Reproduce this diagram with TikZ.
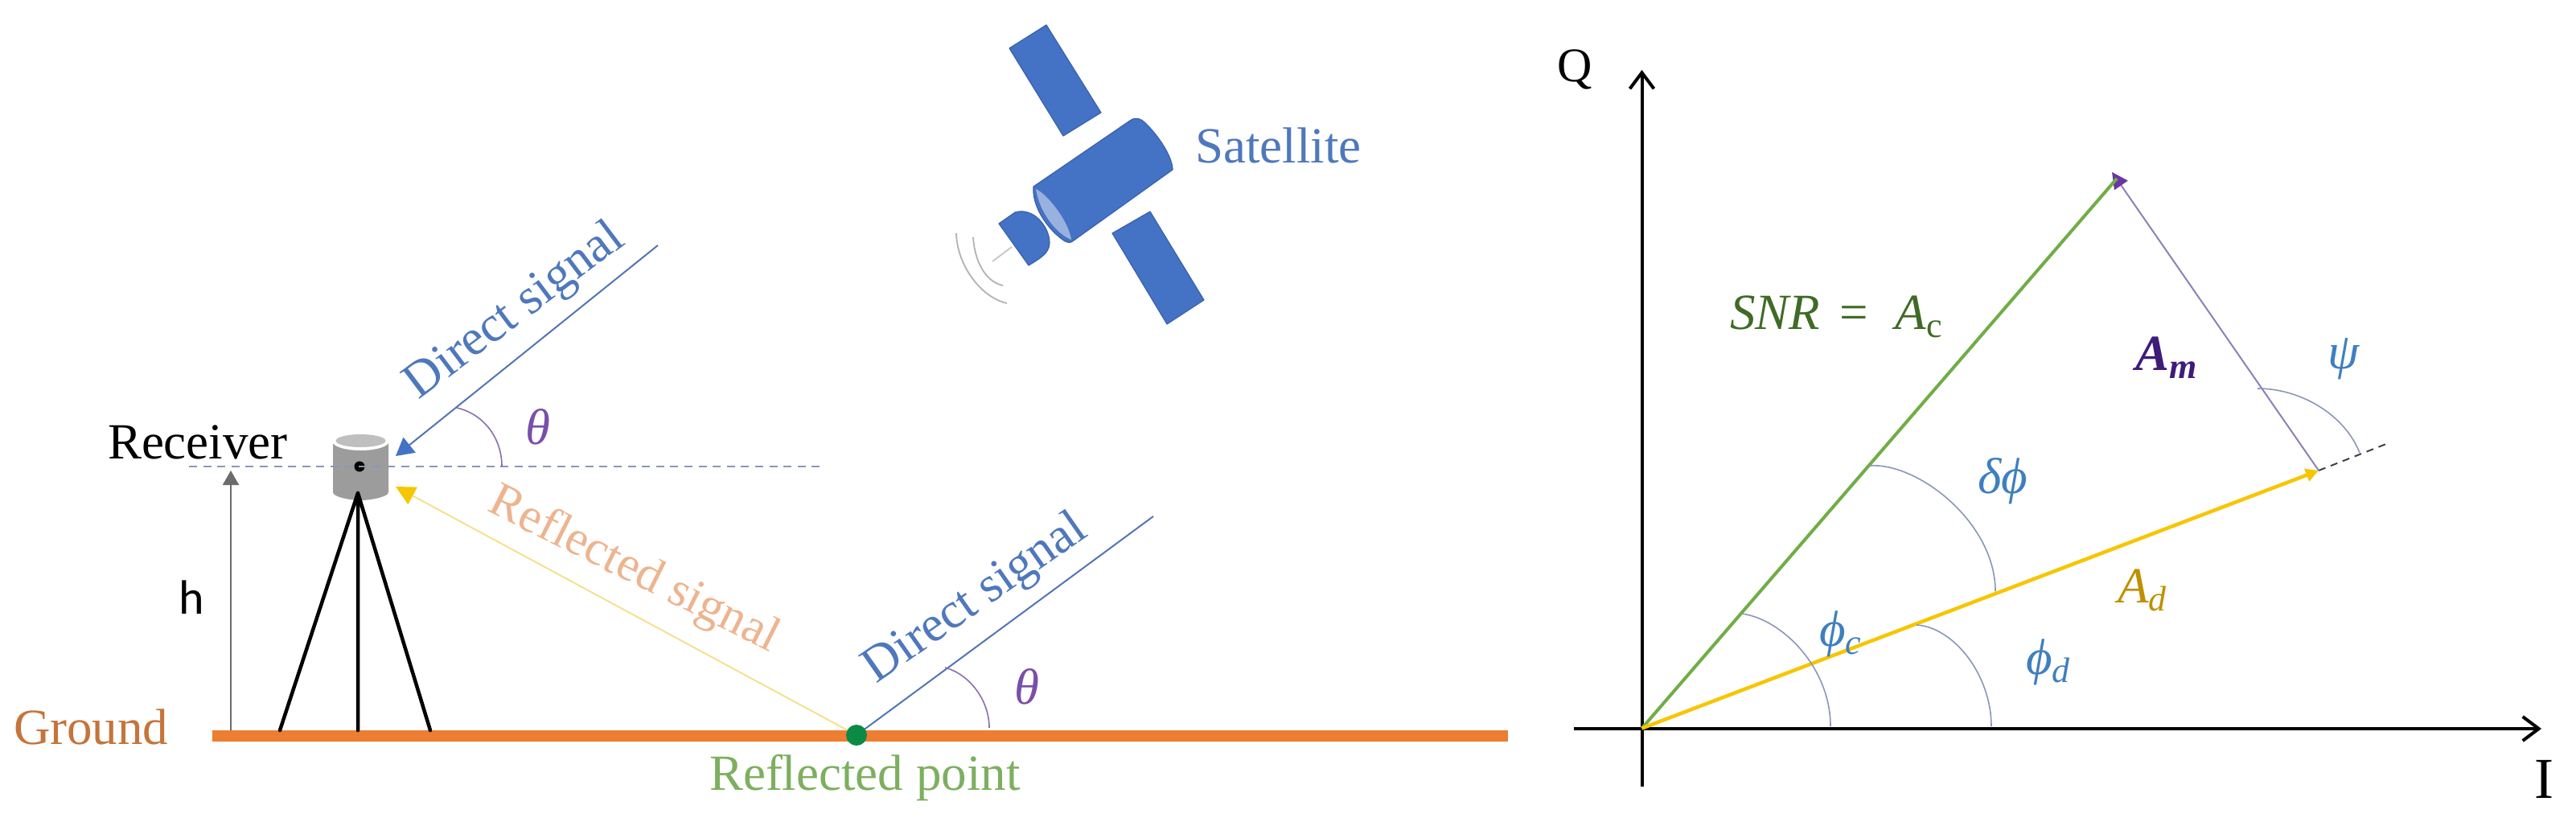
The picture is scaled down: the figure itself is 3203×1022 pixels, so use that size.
\documentclass[tikz,border=0pt]{standalone}
\usepackage{fontspec}
\setmainfont{Liberation Serif}
\newfontfamily\calfont{Carlito}
\usetikzlibrary{arrows.meta}
\definecolor{satblue}{HTML}{4472C4}
\definecolor{satrim}{HTML}{3A62AC}
\definecolor{txtblue}{HTML}{4F78BC}
\definecolor{angblue}{HTML}{3F7FBF}
\definecolor{arcgray}{HTML}{8A97B5}
\definecolor{thpurple}{HTML}{7A4FA8}
\definecolor{arcpurple}{HTML}{8A6FA8}
\definecolor{gndorange}{HTML}{ED7D31}
\definecolor{gndtxt}{HTML}{C5743A}
\definecolor{reftxt}{HTML}{EDB48F}
\definecolor{ptgreen}{HTML}{7DAF5F}
\definecolor{linegreen}{HTML}{70AD47}
\definecolor{snrgreen}{HTML}{3F6B26}
\definecolor{lineyellow}{HTML}{F6C600}
\definecolor{thinyellow}{HTML}{F5E08F}
\definecolor{adtxt}{HTML}{BF9000}
\definecolor{ampurple}{HTML}{3E1C78}
\definecolor{linepurple}{HTML}{8F80B5}
\definecolor{headpurple}{HTML}{6A35A5}
\definecolor{dotgreen}{HTML}{0B8A45}
\newcommand{\subsc}[1]{\raisebox{-10pt}{\fontsize{44}{46}\selectfont #1}}
\tikzset{
  lbl/.style={inner sep=0pt,outer sep=0pt,font=\fontsize{63}{70}\selectfont},
  mth/.style={inner sep=0pt,outer sep=0pt,font=\fontsize{63}{70}\selectfont\itshape},
  axisline/.style={line width=4pt,black,-{Straight Barb[length=20pt,width=30pt,line width=4pt]}},
  thinline/.style={line width=2pt},
  anglearc/.style={line width=1.6pt,arcgray},
  thetaarc/.style={line width=1.6pt,arcpurple},
  dashref/.style={line width=2.2pt,color=arcgray,dash pattern=on 10pt off 7.6pt},
  satpart/.style={fill=satblue,draw=satrim,line width=1.2pt,line join=round},
  wave/.style={line width=1.8pt,color=gray!60}
}
\begin{document}
\begin{tikzpicture}[x=1pt,y=-1pt]
\useasboundingbox (0,0) rectangle (3203,1022);
% --- coordinates
\coordinate (gndL) at (264,915);
\coordinate (gndR) at (1875,915);
\coordinate (refl) at (1065,914);
\coordinate (rxdirect) at (492,567);
\coordinate (srcA) at (818,305);
\coordinate (srcB) at (1434,642);
\coordinate (rxrefl) at (492,605);
\coordinate (dashL) at (235,580);
\coordinate (dashR) at (1024,580);
\coordinate (hbot) at (287,908);
\coordinate (htop) at (287,585);
\coordinate (apex) at (445,613);
\coordinate (legL) at (348,908);
\coordinate (legM) at (445,908);
\coordinate (legR) at (535,908);
\coordinate (org) at (2041.5,905.5);
\coordinate (qtop) at (2041.5,87);
\coordinate (qbot) at (2041.5,978);
\coordinate (ileft) at (1957,906);
\coordinate (iright) at (3160,906);
\coordinate (gtip) at (2632,222);
\coordinate (ytip) at (2883,585);
\coordinate (ptip) at (2626,214);
\coordinate (dashend) at (2972,550);
% --- satellite
\path[satpart] (1301,31) -- (1255,60) -- (1322,169) -- (1369,140) -- cycle;
\path[satpart] (1430,263) -- (1383,290) -- (1451,403) -- (1497,373) -- cycle;
\path[satpart] (1285,232) -- (1405,150) .. controls (1412,145) and (1418,147) .. (1424,153) .. controls (1440,168) and (1458,195) .. (1458,211) -- (1335,299) .. controls (1331,303) and (1326,302) .. (1320,297) .. controls (1300,282) and (1283,255) .. (1285,232) -- cycle;
\fill[color=satblue!55!white] (1288,235) .. controls (1300,240) and (1328,272) .. (1332,298) .. controls (1312,290) and (1292,262) .. (1288,235) -- cycle;
\path[satpart] (1242,278) -- (1262,264) .. controls (1285,257) and (1305,282) .. (1305,302) .. controls (1305,315) and (1292,322) .. (1279,330) -- cycle;
\draw[wave,color=gray!45] (1258,307) -- (1234,325);
\draw[wave] (1189,290) .. controls (1190,330) and (1220,370) .. (1252,377);
\draw[wave] (1210,295) .. controls (1212,325) and (1225,350) .. (1247,355);
\node[lbl,anchor=base west,text=txtblue] (satl) at (1486,202) {Satellite};
% --- ground
\draw[line width=14pt,gndorange] (gndL) -- (gndR);
\node[lbl,anchor=base west,text=gndtxt] (gnd) at (17,925) {Ground};
\node[lbl,anchor=base west,text=ptgreen] (rpt) at (882,982) {Reflected point};
% --- receiver
\fill[color=gray!78] (414,548) -- (483,548) -- (483,612) .. controls (483,618) and (460,622) .. (448,622) .. controls (436,622) and (414,618) .. (414,612) -- cycle;
\fill[white] (448.5,549) ellipse (35 and 11);
\fill[color=gray!50] (448.5,548) ellipse (31 and 8);
\fill[black] (447,580) circle (6.5);
\draw[line width=4.5pt,line cap=round] (apex) -- (legL) (apex) -- (legM) (apex) -- (legR);
% --- reference lines
\draw[dashref] (dashL) -- (dashR);
\draw[thinline,color=gray!85!black,-{Triangle[length=18pt,width=20pt]}] (hbot) -- (htop);
\node[lbl,anchor=base,text=black,font=\fontsize{60}{66}\selectfont\calfont] (hlab) at (238,763) {h};
\node[lbl,anchor=base west,text=black] (rx) at (134,570) {Receiver};
% --- signals
\draw[thinline,color=satblue!75!gray,-{Triangle[length=22pt,width=24pt,color=satblue]}] (srcA) -- (rxdirect);
\draw[thinline,color=thinyellow,-{Triangle[length=24pt,width=24pt,color=lineyellow]}] (refl) -- (rxrefl);
\draw[thinline,color=satblue!75!gray] (refl) -- (srcB);
\fill[color=dotgreen] (refl) circle (13);
\draw[thetaarc] (568,507) .. controls (602,515) and (624,545) .. (624,580);
\draw[thetaarc] (1175,830) .. controls (1205,838) and (1230,870) .. (1230,905);
\node[lbl,anchor=base,rotate=37,text=txtblue] (ds1) at (650,400) {Direct signal};
\node[lbl,anchor=base,rotate=35,text=txtblue] (ds2) at (1222,758) {Direct signal};
\node[lbl,anchor=base,rotate=-26.5,text=reftxt,font=\fontsize{61}{66}\selectfont] (rs) at (781,723) {Reflected signal};
\node[mth,anchor=base,text=thpurple] (th1) at (669,552) {θ};
\node[mth,anchor=base,text=thpurple] (th2) at (1277,875) {θ};
% --- phasor plot
\draw[axisline] (ileft) -- (iright);
\draw[axisline] (qbot) -- (qtop);
\node[lbl,anchor=base,text=black,font=\fontsize{60}{66}\selectfont] (ql) at (1958,102) {Q};
\node[lbl,anchor=base,text=black,font=\fontsize{72}{80}\selectfont] (il) at (3163,992) {I};
\draw[line width=2pt,color=gray!50!black,dash pattern=on 9pt off 7pt] (ytip) -- (dashend);
\draw[line width=2pt,color=linepurple,-{Triangle[length=20pt,width=20pt,color=headpurple]}] (ytip) -- (ptip);
\draw[line width=4pt,color=linegreen] (org) -- (gtip);
\draw[line width=4.5pt,color=lineyellow,-{Triangle[length=16pt,width=16pt]}] (org) -- (ytip);
\draw[anglearc] (2325,579) .. controls (2385,575) and (2481,650) .. (2481,735);
\draw[anglearc] (2166,763) .. controls (2216,770) and (2276,830) .. (2276,903);
\draw[anglearc] (2383,777) .. controls (2430,780) and (2476,840) .. (2476,903);
\draw[anglearc] (2807,483) .. controls (2860,483) and (2915,515) .. (2934,563);
\node[mth,anchor=base west,text=snrgreen] (snr) at (2151,409) {SNR\kern 24pt{\upshape =}\kern 34pt A\subsc{\upshape c}};
\node[mth,anchor=base west,text=ampurple,font=\fontsize{63}{70}\selectfont\bfseries\itshape] (am) at (2655,460) {A\subsc{m}};
\node[mth,anchor=base west,text=adtxt] (ad) at (2633,749) {A\subsc{d}};
\node[mth,anchor=base,text=angblue] (psi) at (2914,458) {ψ};
\node[mth,anchor=base,text=angblue] (dphi) at (2490,613) {δϕ};
\node[mth,anchor=base west,text=angblue] (pc) at (2262,803) {ϕ\subsc{c}};
\node[mth,anchor=base west,text=angblue] (pd) at (2519,838) {ϕ\subsc{d}};
\end{tikzpicture}
\end{document}
